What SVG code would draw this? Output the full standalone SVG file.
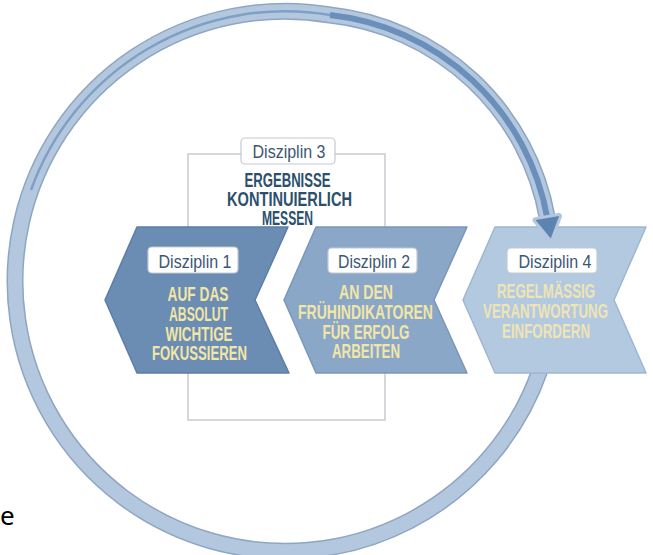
<svg xmlns="http://www.w3.org/2000/svg" width="653" height="555" viewBox="0 0 653 555">
<style>
.lbl{fill:#fff;stroke:#c3c9d2;stroke-width:1.2}
.ltx{font-family:"Liberation Sans",Arial,sans-serif;font-size:18px;fill:#3b5674;text-anchor:middle}
.btx{font-family:"Liberation Sans",Arial,sans-serif;font-size:19.5px;font-weight:bold;text-anchor:middle}
.ttl{fill:#2c4f6e}
.yel{fill:#f2e6a6}
.yel4{fill:#efe4b4}
.chev{stroke-linejoin:round;stroke-width:1.5}
</style>
<rect width="653" height="555" fill="#ffffff"/>
<g id="connectors">
  <path d="M540 370 A270 270 0 1 1 330 15 A248 248 0 0 1 547.3 218" fill="none" stroke="#8ea6c2" stroke-width="17"/>
  <path d="M540 370 A270 270 0 1 1 330 15 A248 248 0 0 1 547.3 218" fill="none" stroke="#b3c8df" stroke-width="14"/>
  <path d="M31 190 A270 270 0 0 1 330 15" fill="none" stroke="#7f9fc4" stroke-width="2.5"/>
  <path d="M330 15 A248 248 0 0 1 547.3 218" fill="none" stroke="#6a8fba" stroke-width="6"/>
</g>
<g id="disziplin3">
  <rect x="188" y="154" width="197" height="266" fill="#ffffff" stroke="#c6cad0" stroke-width="1.5"/>
  <rect class="lbl" x="241" y="138" width="94" height="26" rx="4"/>
  <text class="ltx" x="289" y="158" textLength="73" lengthAdjust="spacingAndGlyphs">Disziplin 3</text>
  <text class="btx ttl" x="287.5" y="187" textLength="86" lengthAdjust="spacingAndGlyphs">ERGEBNISSE</text>
  <text class="btx ttl" x="289.5" y="206" textLength="125" lengthAdjust="spacingAndGlyphs">KONTINUIERLICH</text>
  <text class="btx ttl" x="287.5" y="225" textLength="51" lengthAdjust="spacingAndGlyphs">MESSEN</text>
</g>
<g id="disziplin1">
  <polygon class="chev" points="105,300 137,227 288,227 255,300 289,373 137,373" fill="#6b8cb3" stroke="#5c7ea6"/>
  <rect class="lbl" x="148" y="247" width="90" height="26" rx="4"/>
  <text class="ltx" x="195" y="268" textLength="73" lengthAdjust="spacingAndGlyphs">Disziplin 1</text>
  <text class="btx yel" x="198" y="301" textLength="61" lengthAdjust="spacingAndGlyphs">AUF DAS</text>
  <text class="btx yel" x="198.5" y="321" textLength="59" lengthAdjust="spacingAndGlyphs">ABSOLUT</text>
  <text class="btx yel" x="199" y="341" textLength="67" lengthAdjust="spacingAndGlyphs">WICHTIGE</text>
  <text class="btx yel" x="199.5" y="360" textLength="95" lengthAdjust="spacingAndGlyphs">FOKUSSIEREN</text>
</g>
<g id="disziplin2">
  <polygon class="chev" points="284,300 316,227 467,227 434,300 467,373 316,373" fill="#8ba7c8" stroke="#7a97ba"/>
  <rect class="lbl" x="328" y="248" width="89" height="25" rx="4"/>
  <text class="ltx" x="374" y="268" textLength="72" lengthAdjust="spacingAndGlyphs">Disziplin 2</text>
  <text class="btx yel" x="366" y="299" textLength="54" lengthAdjust="spacingAndGlyphs">AN DEN</text>
  <text class="btx yel" x="365.5" y="319" textLength="135" lengthAdjust="spacingAndGlyphs">FRÜHINDIKATOREN</text>
  <text class="btx yel" x="366" y="339" textLength="87" lengthAdjust="spacingAndGlyphs">FÜR ERFOLG</text>
  <text class="btx yel" x="366" y="358" textLength="68" lengthAdjust="spacingAndGlyphs">ARBEITEN</text>
</g>
<g id="disziplin4">
  <polygon class="chev" points="463,300 495,227 646,227 614,300 646,373 495,373" fill="#b3c9e0" stroke="#9db6d2"/>
  <rect class="lbl" x="507" y="248" width="90" height="25" rx="4"/>
  <text class="ltx" x="555" y="268" textLength="73" lengthAdjust="spacingAndGlyphs">Disziplin 4</text>
  <text class="btx yel4" x="546" y="298" textLength="98" lengthAdjust="spacingAndGlyphs">REGELMÄSSIG</text>
  <text class="btx yel4" x="545.5" y="318" textLength="125" lengthAdjust="spacingAndGlyphs">VERANTWORTUNG</text>
  <text class="btx yel4" x="546" y="338" textLength="88" lengthAdjust="spacingAndGlyphs">EINFORDERN</text>
</g>
<g id="arrowhead">
  <polygon points="535.5,220.1 559.1,216 550.8,238.5" fill="#b3c8df" stroke="#b3c8df" stroke-width="6" stroke-linejoin="round"/>
  <polygon points="535.5,220.1 559.1,216 550.8,238.5" fill="#5d84b0"/>
</g>
<text x="0" y="525" font-family="Noto Sans, Open Sans, sans-serif" font-size="26" fill="#000">e</text>
</svg>
